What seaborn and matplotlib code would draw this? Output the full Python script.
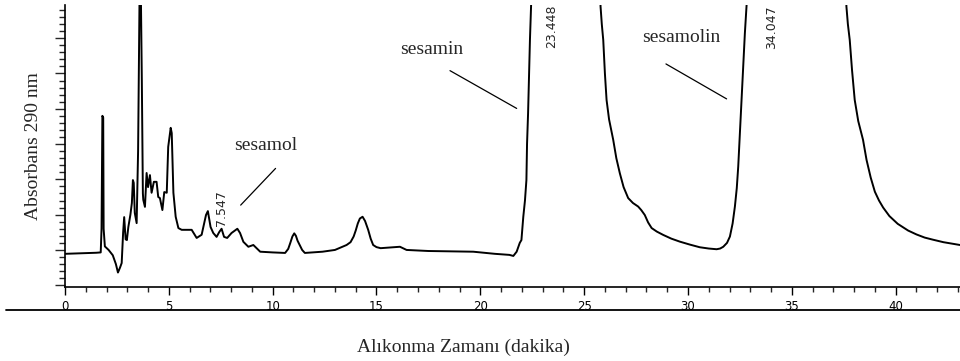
import numpy as np
import pandas as pd
import matplotlib
matplotlib.use("Agg")
import matplotlib.pyplot as plt
from matplotlib.lines import Line2D
from matplotlib.ticker import MultipleLocator, NullFormatter
import seaborn as sns

# Retention time (min) and absorbance (arbitrary units, major tick = 10)
time_min = [
    0.0, 0.5, 1.0, 1.5, 1.72, 1.76, 1.80, 1.84, 1.86, 1.92, 2.1, 2.3, 2.45, 2.55, 2.65,
    2.73, 2.80, 2.85, 2.92, 2.98, 3.05, 3.15, 3.22, 3.27, 3.31, 3.36, 3.45, 3.52, 3.57,
    3.62, 3.70, 3.75, 3.77, 3.85, 3.93, 4.0, 4.09, 4.17, 4.28, 4.41, 4.49, 4.57, 4.69,
    4.78, 4.9, 4.97, 5.09, 5.14, 5.22, 5.33, 5.46, 5.62, 6.1, 6.34, 6.58, 6.79, 6.88,
    7.01, 7.14, 7.3, 7.43, 7.54, 7.66, 7.81, 8.02, 8.3, 8.43, 8.59, 8.83, 9.07, 9.4,
    10.0, 10.6, 10.75, 10.85, 10.95, 11.04, 11.12, 11.2, 11.3, 11.42, 11.55, 12.4, 13.0,
    13.56, 13.75, 13.9, 14.0, 14.1, 14.2, 14.33, 14.45, 14.6, 14.72, 14.84, 15.0, 15.2,
    16.13, 16.45, 17.5, 18.5, 19.66, 20.3, 20.7, 21.4, 21.59, 21.75, 21.9,
    21.98, 22.07, 22.15, 22.22, 22.25, 22.3, 22.39, 22.45, 22.55, 23.448, 25.7, 25.79,
    25.85, 25.92, 26.0, 26.08, 26.2, 26.4, 26.55, 26.72, 26.9, 27.12, 27.35, 27.6, 27.75,
    27.92, 28.08, 28.25, 28.5, 28.81, 29.2, 29.61, 30.1, 30.57, 31.0, 31.38, 31.55,
    31.7, 31.88, 32.02, 32.15, 32.26, 32.35, 32.42, 32.5, 32.58, 32.66, 32.74, 32.8,
    32.85, 33.0, 34.047, 37.5, 37.63, 37.7, 37.79, 37.9, 38.03, 38.2, 38.43, 38.6, 38.8,
    39.0, 39.2, 39.4, 39.7, 40.1, 40.6, 41.0, 41.4, 41.8, 42.3, 42.7, 43.1,
]
absorbance = [
    -1.1, -1.0, -0.9, -0.8, -0.7, 6.0, 38.0, 37.5, 6.0, 1.0, 0.0, -1.5, -4.0, -6.4, -5.0,
    -3.7, 5.0, 9.3, 3.0, 2.8, 6.5, 10.0, 13.3, 19.8, 19.0, 10.5, 7.6, 28.0, 60.0,
    90.0, 48.0, 16.0, 14.2, 12.2, 21.8, 17.8, 21.2, 16.2, 19.3, 19.3, 15.0, 14.7, 11.3,
    16.4, 16.2, 29.2, 34.6, 33.1, 16.2, 9.4, 6.2, 5.7, 5.7, 3.4, 4.3, 9.9, 11.0,
    6.5, 4.8, 3.7, 5.1, 6.0, 3.7, 3.4, 4.8, 6.0, 4.8, 2.3, 0.9, 1.4, -0.5,
    -0.7, -0.85, 0.3, 2.0, 3.8, 4.7, 4.0, 2.6, 1.4, 0.0, -0.85, -0.5, 0.0,
    1.4, 2.2, 3.8, 5.5, 7.5, 8.9, 9.4, 8.2, 5.7, 3.2, 1.4, 0.8, 0.5,
    0.9, 0.0, -0.3, -0.4, -0.5, -0.85, -1.1, -1.4, -1.7, -0.5, 2.0,
    2.8, 9.4, 14.0, 19.8, 30.0, 38.7, 59.5, 70.0, 90.0, 300.0, 90.0, 69.0,
    64.0, 59.5, 50.0, 42.5, 37.0, 31.2, 26.0, 21.7, 17.8, 14.7, 13.3, 12.3, 11.3,
    9.9, 7.8, 6.2, 5.2, 4.25, 3.2, 2.35, 1.5, 0.76, 0.4, 0.2, 0.4,
    0.9, 2.0, 3.8, 7.5, 12.3, 17.5, 23.6, 33.0, 42.5, 52.0, 61.4, 67.0,
    72.0, 100.0, 300.0, 100.0, 69.0, 64.0, 59.5, 51.0, 42.5, 36.5, 31.2, 25.5, 20.5,
    16.5, 14.0, 12.0, 9.6, 7.4, 5.5, 4.4, 3.5, 2.9, 2.2, 1.8, 1.4,
]

peak_labels = ["7.547", "23.448", "34.047"]
compound_names = ["sesamol", "sesamin", "sesamolin"]

df = pd.DataFrame({"t": time_min, "A": absorbance})

sns.set_style("white")
plt.rcParams["font.family"] = ["DejaVu Sans"]

W, H = 960, 361
fig = plt.figure(figsize=(W / 100, H / 100), dpi=100)
left, right, top, bottom = 65, 960, 5, 287
ax = fig.add_axes([left / W, 1 - bottom / H, (right - left) / W, (bottom - top) / H])

sns.lineplot(data=df, x="t", y="A", ax=ax, color="black", linewidth=1.4,
             estimator=None, sort=False)

ax.set_xlim(0, 43.1)
ax.set_ylim(-10.5, 69.4)
for s in ["top", "right"]:
    ax.spines[s].set_visible(False)
for s in ["left", "bottom"]:
    ax.spines[s].set_color("black")
    ax.spines[s].set_linewidth(1.2)

ax.xaxis.set_major_locator(MultipleLocator(5))
ax.xaxis.set_minor_locator(MultipleLocator(1))
ax.yaxis.set_major_locator(MultipleLocator(10))
ax.yaxis.set_minor_locator(MultipleLocator(2))
ax.yaxis.set_major_formatter(NullFormatter())
ax.tick_params(axis="x", which="major", direction="out", length=6, width=1,
               labelsize=8.5, pad=3, colors="black")
ax.tick_params(axis="x", which="minor", direction="out", length=3.5, width=1)
ax.tick_params(axis="y", which="major", direction="out", length=7, width=1)
ax.tick_params(axis="y", which="minor", direction="out", length=4, width=1)
ax.tick_params(bottom=True, left=True, which="both")
ax.set_xlabel("")
ax.set_ylabel("")

serif = ["Liberation Serif", "DejaVu Serif"]

# Axis titles
fig.text(463 / W, 1 - 347 / H, "Alıkonma Zamanı (dakika)", family=serif,
         fontsize=14, ha="center", va="center")
fig.text(34 / W, 1 - 146 / H, "Absorbans 290 nm", family=serif, fontsize=14,
         rotation=90, ha="center", va="center")

# Separator line below the tick labels
fig.add_artist(Line2D([6 / W, 1.0], [1 - 310 / H, 1 - 310 / H], color="black",
                      linewidth=1.3))

# Peak retention-time labels
ax.text(7.56, 12.0, peak_labels[0], rotation=90, fontsize=9, ha="center", va="center")
ax.text(23.45, 69.4, peak_labels[1], rotation=90, fontsize=9, ha="center", va="top")
ax.text(34.04, 69.4, peak_labels[2], rotation=90, fontsize=9, ha="center", va="top")

# Compound annotations with pointer lines
ax.text(9.68, 29.7, compound_names[0], family=serif, fontsize=14, ha="center", va="center")
ax.plot([8.46, 10.14], [12.7, 23.1], color="black", linewidth=0.9)
ax.text(17.67, 56.7, compound_names[1], family=serif, fontsize=14, ha="center", va="center")
ax.plot([18.54, 21.75], [50.8, 40.1], color="black", linewidth=0.9)
ax.text(29.7, 60.3, compound_names[2], family=serif, fontsize=14, ha="center", va="center")
ax.plot([28.94, 31.86], [52.7, 42.8], color="black", linewidth=0.9)

fig.savefig("out.png", dpi=100, facecolor="white")
